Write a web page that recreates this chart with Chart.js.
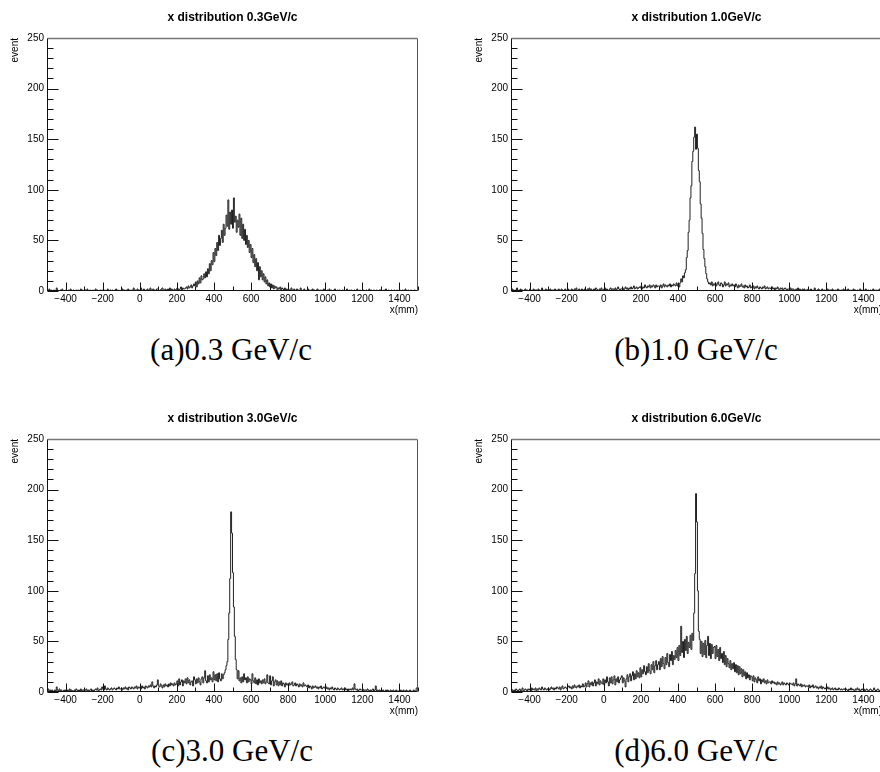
<!DOCTYPE html>
<html>
<head>
<meta charset="utf-8">
<script src="https://cdn.jsdelivr.net/npm/chart.js@4.4.0/dist/chart.umd.min.js"></script>
<style>
  html, body { margin: 0; padding: 0; background: #fff; overflow: hidden; }
  #page { position: relative; width: 880px; height: 772px; overflow: hidden; }
  .pad { position: absolute; overflow: hidden; }
  .cap { position: absolute; width: 440px; text-align: center; color: #000;
         font-family: "Liberation Serif", serif; font-size: 31px; line-height: 31px; white-space: nowrap; }
</style>
</head>
<body>
<div id="page">
  <div class="pad" style="left:0;top:0;width:440px;height:330px"><canvas id="h03" width="440" height="330"></canvas></div>
  <div class="pad" style="left:440px;top:0;width:440px;height:330px"><canvas id="h10" width="470" height="330"></canvas></div>
  <div class="pad" style="left:0;top:401px;width:440px;height:330px"><canvas id="h30" width="440" height="330"></canvas></div>
  <div class="pad" style="left:440px;top:401px;width:440px;height:330px"><canvas id="h60" width="470" height="330"></canvas></div>
  <div class="cap" style="left:11px;top:334px">(a)0.3 GeV/c</div>
  <div class="cap" style="left:476px;top:334px">(b)1.0 GeV/c</div>
  <div class="cap" style="left:12px;top:735px">(c)3.0 GeV/c</div>
  <div class="cap" style="left:476px;top:735px">(d)6.0 GeV/c</div>
</div>
<script>
// binning: 400 bins of 5 mm from -500 to 1500
const xLow = -500, xHigh = 1500, binW = 5;
const xTicks = [-400, -200, 0, 200, 400, 600, 800, 1000, 1200, 1400];
const yTicks = [0, 50, 100, 150, 200, 250];
const titles = ['x distribution 0.3GeV/c', 'x distribution 1.0GeV/c', 'x distribution 3.0GeV/c', 'x distribution 6.0GeV/c'];

// counts per bin, one row = 100 mm
const p03 = [
  1,0,0,2,0,1,0,0,1,0, 0,3,1,0,0,1,0,2,0,0,
  0,1,0,0,1,0,2,0,0,1, 0,0,1,0,1,0,0,2,0,1,
  0,0,1,0,2,0,0,1,0,0, 1,0,0,2,0,1,0,0,1,0,
  1,0,0,1,0,0,2,1,0,1, 0,1,0,0,1,2,0,1,0,0,
  0,1,2,0,1,0,1,0,2,1, 0,1,0,1,3,0,1,0,2,1,
  1,0,3,1,0,2,1,0,1,2, 0,1,3,1,0,2,1,1,0,2,
  2,1,0,1,2,3,1,0,2,1, 1,2,0,3,1,2,1,0,2,1,
  1,3,2,0,2,4,1,3,2,2, 3,4,2,5,3,4,6,3,5,7,
  5,9,4,10,7,13,8,15,11,12, 17,13,19,14,22,17,27,20,30,26,
  38,29,42,35,48,40,55,45,52,60, 48,66,55,62,75,64,90,61,78,66,
  80,62,92,68,74,58,70,63,76,55, 72,52,66,50,61,46,55,43,50,38,
  46,33,42,28,36,24,32,20,28,11, 24,14,20,11,17,9,14,7,11,5,
  8,4,7,3,6,2,5,3,4,1, 3,2,4,1,3,2,1,3,1,2,
  1,2,0,1,3,1,0,2,1,0, 2,1,1,0,3,1,0,1,2,0,
  0,1,2,0,1,0,1,2,0,1, 0,0,2,1,0,1,0,1,0,2,
  1,0,0,1,0,2,0,1,0,0, 1,2,0,0,1,0,1,0,0,1,
  0,1,0,0,2,0,0,1,0,1, 0,0,1,0,0,2,0,0,1,0,
  0,0,1,0,0,1,0,0,2,0, 1,0,0,1,0,0,1,0,0,1,
  1,0,0,0,1,0,2,0,0,1, 0,0,1,0,0,1,0,0,1,0,
  0,1,0,0,1,0,0,2,0,0, 1,0,0,1,0,0,0,1,0,0
];
const p10 = [
  1,0,2,1,0,1,0,3,1,0, 1,2,0,1,0,1,2,0,1,0,
  0,2,1,0,1,2,0,1,1,0, 2,1,0,1,3,0,1,0,2,1,
  1,0,1,2,0,1,1,0,2,1, 0,1,2,1,0,2,1,0,1,2,
  0,1,2,1,1,0,2,1,0,2, 1,3,0,1,2,1,0,2,1,1,
  2,1,0,2,1,3,1,2,0,1, 2,1,3,2,1,0,2,1,3,1,
  1,2,3,1,2,1,0,2,3,1, 2,2,1,3,1,2,4,2,1,2,
  2,3,1,2,4,2,3,1,3,2, 4,2,3,5,2,3,4,2,3,4,
  3,5,2,4,3,6,4,3,5,4, 6,3,5,4,6,5,3,6,4,5,
  5,4,6,3,5,7,4,6,5,4, 6,5,7,4,6,5,7,6,5,8,
  5,7,4,8,12,9,15,13,18,21, 33,40,58,70,92,104,128,138,152,162,
  140,155,141,119,108,86,72,57,41,32, 24,17,12,9,7,8,6,9,5,7,
  6,8,5,7,9,6,5,8,7,4, 6,9,5,7,6,8,4,6,5,7,
  5,6,4,7,5,3,6,4,5,7, 4,5,3,6,4,5,3,4,6,3,
  4,3,5,2,4,3,5,3,2,4, 3,2,4,3,5,2,3,4,2,3,
  3,2,4,2,3,1,3,2,4,2, 1,3,2,3,1,2,3,2,1,2,
  2,1,3,1,2,2,1,0,2,1, 3,1,2,0,1,2,1,2,0,1,
  1,2,0,1,2,1,0,1,3,1, 0,1,2,1,0,1,2,0,1,1,
  0,1,2,0,1,1,0,2,1,0, 1,0,1,2,0,1,0,1,0,2,
  1,0,1,0,2,1,0,1,0,1, 2,0,1,0,1,0,1,2,0,1,
  0,1,0,2,1,0,1,0,1,0, 1,2,0,1,0,1,0,1,2,0
];
const p30 = [
  2,1,3,0,2,1,2,1,0,2, 1,5,2,1,3,1,2,0,1,2,
  1,2,0,2,1,3,1,2,1,0, 2,1,3,2,1,2,0,3,1,2,
  2,1,2,3,1,2,0,2,3,1, 2,1,2,3,2,4,1,2,3,2,
  5,3,2,6,3,2,4,3,2,3, 4,2,3,4,3,2,4,3,5,3,
  3,4,2,4,3,5,3,4,2,5, 4,3,5,4,3,5,4,6,3,5,
  4,5,3,6,4,5,3,6,5,4, 6,5,7,5,10,6,4,6,5,7,
  12,6,5,8,6,4,7,5,8,6, 7,5,8,6,9,7,8,6,9,7,
  8,11,6,13,7,10,12,6,11,9, 13,8,14,9,12,7,10,11,6,15,
  12,8,13,9,14,10,7,13,15,9, 14,21,11,9,16,10,17,12,14,10,
  20,12,17,11,18,10,19,13,11,18, 13,17,19,22,26,30,52,78,112,178,
  157,118,84,55,32,22,13,21,11,14, 9,15,10,18,12,14,9,15,10,13,
  12,8,18,11,9,14,8,12,7,13, 9,11,8,12,9,13,8,10,17,9,
  8,16,7,11,15,6,10,12,7,11, 6,10,7,11,6,9,8,5,9,7,
  8,6,9,7,8,10,6,7,9,6, 8,7,5,8,6,7,5,9,6,7,
  6,5,7,4,6,5,3,6,4,5, 6,4,5,3,5,4,6,3,4,5,
  4,3,5,3,4,2,4,3,5,3, 2,4,3,2,4,3,2,3,4,2,
  3,2,4,2,3,1,3,2,3,2, 4,2,8,3,2,3,1,2,3,2,
  2,3,1,2,2,1,3,2,1,2, 1,2,3,1,2,6,1,2,1,2,
  1,2,1,2,0,1,2,1,2,1, 0,2,1,1,2,0,1,2,1,1,
  1,0,2,1,1,2,0,1,2,1, 1,0,2,1,0,1,2,0,1,4
];
const p60 = [
  1,3,2,1,2,0,3,2,1,2, 3,1,2,4,1,2,3,2,1,3,
  2,3,1,4,2,3,2,4,1,3, 2,4,3,2,5,3,2,4,3,2,
  3,4,2,3,5,3,4,2,4,3, 5,4,3,5,2,4,6,3,4,5,
  4,3,5,6,4,5,3,6,4,7, 5,4,6,5,7,4,6,5,8,5,
  6,9,5,8,11,5,9,7,10,6, 9,12,6,10,8,13,7,11,9,8,
  13,7,12,9,15,10,6,14,9,15, 8,12,16,7,13,10,15,9,12,14,
  16,9,14,11,5,13,17,10,15,18, 11,16,20,12,18,13,21,15,19,14,
  24,15,22,18,26,20,17,25,19,28, 21,18,27,22,30,19,26,31,22,27,
  30,22,33,25,35,28,23,34,27,38, 29,25,37,31,40,27,36,32,41,34,
  44,31,46,36,65,39,50,34,52,41, 55,38,49,44,56,42,58,51,78,117,
  196,168,100,60,52,38,50,35,48,37, 51,34,46,55,36,48,33,47,38,44,
  45,33,46,35,42,31,44,33,38,29, 40,27,36,25,33,28,24,31,22,28,
  23,29,20,27,19,26,17,25,18,23, 15,22,16,20,13,19,14,17,12,16,
  15,11,16,10,14,12,9,15,11,13, 8,12,10,13,9,11,8,12,9,10,
  10,8,11,9,10,8,9,7,10,8, 9,7,8,10,7,9,8,7,9,8,
  7,9,8,8,7,9,6,8,13,6, 8,7,6,8,5,7,6,7,5,6,
  6,5,7,4,6,5,7,4,5,6, 4,5,3,5,4,6,3,5,4,3,
  4,3,5,3,4,2,3,4,2,3, 4,2,3,2,4,3,2,3,2,3,
  3,2,3,2,1,3,2,4,2,3, 2,1,3,2,4,2,3,1,2,3,
  2,3,1,2,3,2,1,2,3,2, 1,2,4,2,1,2,3,2,1,2
];

const sans = 'Liberation Sans, Arial, sans-serif';
const tickFont = { family: sans, size: 10 };
const minus = v => String(v).replace('-', '\u2212');

// frame + inward ticks drawn the way ROOT does it
const rootFrame = {
  id: 'rootFrame',
  afterDatasetsDraw(chart) {
    const { ctx, chartArea: a, scales: { x, y } } = chart;
    const L = Math.round(a.left) + 0.5, R = Math.round(a.right) - 0.5;
    const T = Math.round(a.top) + 0.5, B = Math.round(a.bottom) - 0.5;
    ctx.save();
    ctx.lineWidth = 1;
    ctx.strokeStyle = '#111';
    ctx.beginPath();
    for (let v = 0; v <= 250; v += 10) {
      const py = Math.round(y.getPixelForValue(v)) + 0.5;
      const len = yTicks.includes(v) ? 11 : 6;
      ctx.moveTo(L, py); ctx.lineTo(L + len, py);
    }
    for (let v = xLow; v <= xHigh; v += 100) {
      const px = Math.round(x.getPixelForValue(v)) + 0.5;
      const len = xTicks.includes(v) ? 8 : 4;
      ctx.moveTo(px, B); ctx.lineTo(px, B - len);
    }
    ctx.moveTo(L, T); ctx.lineTo(L, B); ctx.lineTo(R, B);
    ctx.stroke();
    ctx.strokeStyle = '#555';
    ctx.beginPath();
    ctx.moveTo(R, B); ctx.lineTo(R, T);
    ctx.stroke();
    ctx.lineWidth = 1.5;
    ctx.strokeStyle = '#777';
    ctx.beginPath();
    ctx.moveTo(L, T); ctx.lineTo(R, T);
    ctx.stroke();
    ctx.restore();
  }
};

function drawHist(id, counts, title, yw, padRight) {
  const pts = counts.map((c, i) => ({ x: xLow + i * binW, y: c }));
  pts.push({ x: xHigh, y: counts[counts.length - 1] });
  return new Chart(document.getElementById(id), {
    type: 'line',
    data: {
      datasets: [{
        data: pts,
        stepped: 'after',
        borderColor: '#222',
        borderWidth: 1,
        pointRadius: 0,
        fill: false
      }]
    },
    options: {
      responsive: false,
      animation: false,
      events: [],
      layout: { padding: { left: 0, right: padRight, top: 0, bottom: 0 } },
      plugins: {
        legend: { display: false },
        tooltip: { enabled: false },
        title: {
          display: true, text: title, fullSize: false, color: '#000',
          font: { family: sans, size: 12, weight: 'bold' },
          padding: { top: 10, bottom: 13.6 }
        }
      },
      scales: {
        x: {
          type: 'linear', min: xLow, max: xHigh,
          grid: { display: false, drawTicks: false }, border: { display: false },
          afterBuildTicks: s => { s.ticks = xTicks.map(v => ({ value: v })); },
          afterFit: s => { s.height = 39; },
          ticks: { autoSkip: false, maxRotation: 0, padding: 2, color: '#000', font: tickFont, callback: minus },
          title: { display: true, text: 'x(mm)', align: 'end', color: '#000', font: tickFont, padding: { top: 0, bottom: 14 } }
        },
        y: {
          type: 'linear', min: 0, max: 250,
          grid: { display: false, drawTicks: false }, border: { display: false },
          afterBuildTicks: s => { s.ticks = yTicks.map(v => ({ value: v })); },
          afterFit: s => { s.width = yw; },
          ticks: { autoSkip: false, padding: 3, color: '#000', font: tickFont, callback: minus },
          title: { display: true, text: 'event', align: 'end', color: '#000', font: tickFont, padding: { top: yw - 38, bottom: 0 } }
        }
      }
    },
    plugins: [rootFrame]
  });
}

drawHist('h03', p03, titles[0], 47, 22);
drawHist('h10', p10, titles[1], 71, 28);
drawHist('h30', p30, titles[2], 47, 22);
drawHist('h60', p60, titles[3], 71, 28);
</script>
</body>
</html>
